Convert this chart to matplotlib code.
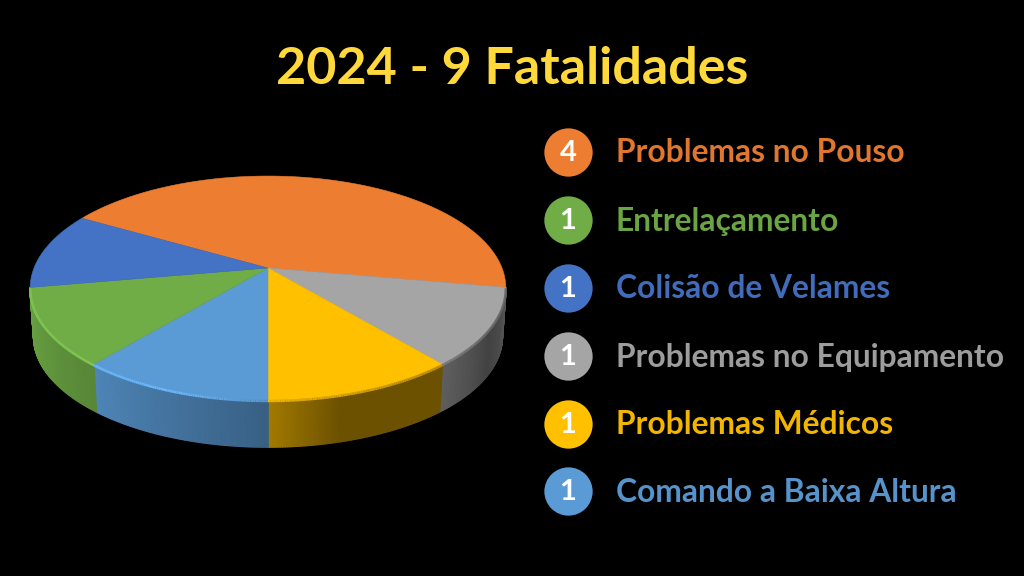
import numpy as np
import matplotlib
matplotlib.use("Agg")
import matplotlib.pyplot as plt
from matplotlib.collections import PolyCollection, LineCollection
from matplotlib.colors import to_rgb

title = "2024 - 9 Fatalidades"
categories = ["Problemas no Pouso", "Entrelaçamento", "Colisão de Velames",
              "Problemas no Equipamento", "Problemas Médicos", "Comando a Baixa Altura"]
counts = [4, 1, 1, 1, 1, 1]
colors = ["#ED7D31", "#70AD47", "#4472C4", "#A5A5A5", "#FFC000", "#5B9BD5"]
# order of the slices clockwise round the pie, as indexes into categories
pie_order = [0, 3, 4, 5, 1, 2]

# pie geometry in pixels
cx, cy = 268, 268
radius, squash, persp = 234, 108.4, 0.1786
depth, bottom_scale = 49, 0.985
start_angle = 150

# wall brightness against angle round the pie (jumps at the slice borders)
wall_t = [190, 230, 230, 270, 270, 285, 310, 310, 330, 350]
wall_f = [0.95, 0.78, 0.86, 0.62, 0.64, 0.42, 0.42, 0.58, 0.40, 0.50]
rim_t = [190, 250, 275, 310, 350]
rim_f = [1.15, 1.18, 0.9, 0.75, 0.55]


def project(t, scale=1.0, dy=0.0):
    """Circle angle in degrees to pixel position, with perspective."""
    t = np.radians(t)
    den = 1 + persp * np.sin(t)
    x = cx + scale * radius * np.cos(t) / den
    y = cy + dy - scale * squash * np.sin(t) / den
    return x, y


def shade(color, f):
    return tuple(min(1, c * f) for c in to_rgb(color))


fig = plt.figure(figsize=(10.24, 5.76), dpi=100, facecolor="black")
ax = fig.add_axes([0, 0, 1, 1])
ax.set_xlim(0, 1024)
ax.set_ylim(576, 0)
ax.axis("off")

# slice spans, going clockwise from the start angle
vals = np.array(counts, dtype=float)[pie_order]
spans = vals / vals.sum() * 360
ends = start_angle - np.cumsum(spans)
starts = ends + spans

walls, wall_cols, rims, rim_cols = [], [], [], []
for idx, a, b in zip(pie_order, starts, ends):
    col = colors[idx]

    # top face
    t = np.linspace(a, b, 80)
    x, y = project(t)
    ax.fill(np.r_[cx, x], np.r_[cy, y], color=col, lw=0.4, zorder=3)

    # wall and rim, only the part that faces the viewer
    aa, bb = np.mod(a, 360), np.mod(b, 360)
    if aa == 0:
        aa = 360
    lo, hi = max(bb, 190), min(aa, 350)
    if aa < bb or lo >= hi:
        continue
    edges = np.linspace(lo, hi, int((hi - lo) * 2) + 1)
    for t0, t1 in zip(edges[:-1], edges[1:]):
        x0, y0 = project(t0)
        x1, y1 = project(t1)
        x2, y2 = project(t1, bottom_scale, depth)
        x3, y3 = project(t0, bottom_scale, depth)
        walls.append([(x0, y0), (x1, y1), (x2, y2), (x3, y3)])
        mid = (t0 + t1) / 2
        wall_cols.append(shade(col, np.interp(mid, wall_t, wall_f)))
        rims.append([(x0, y0 + 1), (x1, y1 + 1)])
        rim_cols.append(shade(col, np.interp(mid, rim_t, rim_f)))

ax.add_collection(PolyCollection(walls, facecolors=wall_cols, edgecolors=wall_cols,
                                 linewidths=1.2, zorder=2))
ax.add_collection(LineCollection(rims, colors=rim_cols, linewidths=1.8, zorder=4))

ax.text(512, 69, title, color="#FFD93B", fontsize=37.5, fontweight="bold",
        family="Lato", ha="center", va="center")

# legend rows
row_y = [152, 220, 288, 356, 424, 491]
for name, n, col, y in zip(categories, counts, colors, row_y):
    ax.scatter([568], [y], s=1210, color=col, linewidths=0, zorder=3)
    ax.text(568, y + 1, str(n), color="white", fontsize=21, fontweight="bold",
            family="Lato", ha="center", va="center", zorder=4)
    ax.text(616, y + 1, name, color=shade(col, 0.95), fontsize=22.9, fontweight="bold",
            family="Lato", ha="left", va="center")

fig.savefig("out.png", dpi=100, facecolor="black")
